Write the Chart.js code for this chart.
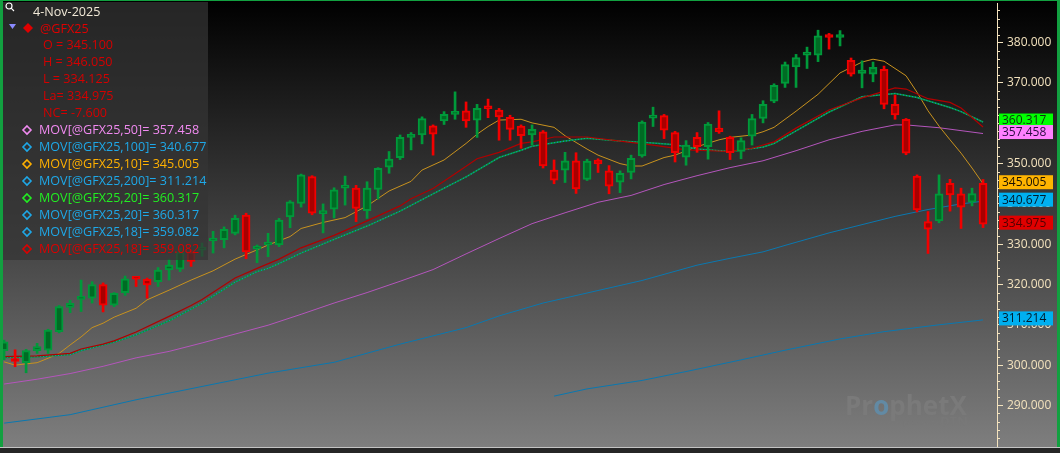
<!DOCTYPE html>
<html>
<head>
<meta charset="utf-8">
<script src="https://cdn.jsdelivr.net/npm/chart.js@4.4.1/dist/chart.umd.min.js"></script>
<style>
html, body { margin: 0; padding: 0; background: #000; overflow: hidden; }
#wrap { width: 1060px; height: 453px; }
</style>
</head>
<body>
<div id="wrap"><canvas id="gfChart" width="1060" height="453"></canvas></div>
<script>
// daily bars of @GFX25, oldest first, the last one is 4-Nov-2025
var opens = [303.6, 301.3, 300.6, 303.6, 303.7, 308.3, 314.3, 316.3, 316.6, 320.0,
    314.9, 318.0, 321.7, 321.3, 320.7, 323.6, 323.8, 328.1, 328.5, 330.8,
    331.1, 332.7, 337.2, 328.8, 329.8, 329.8, 336.8, 340.1, 346.8, 337.6,
    338.7, 343.9, 343.9, 338.3, 343.6, 349.1, 351.5, 356.5, 357.1, 359.4,
    360.6, 362.2, 363.1, 360.8, 364.0, 363.3, 361.5, 359.3, 357.1, 357.9,
    348.4, 348.4, 350.7, 346.1, 350.9, 348.2, 345.4, 347.8, 351.9, 361.3,
    361.9, 357.7, 351.6, 356.5, 354.2, 358.8, 356.5, 353.0, 356.8, 361.2,
    365.5, 369.9, 374.0, 376.9, 376.9, 381.9, 381.3, 375.6, 372.4, 372.2,
    373.4, 364.7, 361.0, 346.9, 335.6, 335.8, 345.1, 342.5, 340.4, 345.100];
var highs = [306.2, 303.8, 303.9, 305.4, 308.9, 314.8, 316.1, 321.1, 320.7, 320.4,
    318.0, 322.1, 321.8, 321.6, 324.2, 326.3, 329.0, 328.5, 330.3, 333.2,
    334.3, 337.2, 337.7, 329.8, 332.7, 336.4, 340.8, 347.4, 347.0, 340.0,
    344.0, 346.9, 344.6, 345.5, 349.0, 353.0, 357.1, 357.7, 361.6, 359.6,
    362.9, 367.8, 365.3, 364.7, 366.0, 363.7, 362.0, 359.6, 359.6, 358.2,
    350.9, 352.8, 352.7, 351.1, 351.2, 349.5, 348.2, 352.1, 360.6, 364.0,
    362.2, 358.0, 355.7, 357.7, 360.2, 363.1, 356.8, 356.4, 362.2, 365.6,
    369.8, 375.2, 377.1, 378.9, 383.1, 382.3, 383.0, 376.2, 375.5, 375.2,
    374.2, 367.0, 361.2, 347.2, 338.1, 347.2, 346.1, 343.9, 343.9, 346.050];
var lows = [301.3, 299.6, 298.1, 302.9, 302.9, 308.0, 313.0, 313.3, 315.4, 313.2,
    314.5, 317.3, 319.5, 316.6, 319.5, 321.1, 323.2, 324.5, 327.0, 327.8,
    329.1, 332.3, 326.4, 325.4, 326.9, 329.4, 334.1, 339.2, 337.3, 332.8,
    336.5, 339.7, 335.6, 336.4, 341.2, 347.6, 351.0, 353.4, 354.9, 352.1,
    359.7, 361.0, 359.0, 356.5, 361.4, 355.8, 355.8, 353.8, 354.6, 348.9,
    345.0, 345.3, 342.6, 345.8, 347.8, 342.5, 342.8, 346.2, 351.6, 359.2,
    356.2, 350.4, 349.6, 352.8, 351.1, 357.5, 351.0, 351.2, 354.6, 360.1,
    365.1, 368.9, 368.9, 373.6, 375.3, 378.4, 379.2, 371.7, 368.8, 370.3,
    363.6, 361.0, 352.2, 338.0, 327.7, 335.3, 338.2, 333.9, 339.5, 334.125];
var closes = [305.8, 300.9, 303.6, 304.6, 308.7, 314.5, 315.3, 316.8, 320.0, 314.9,
    317.8, 321.4, 321.3, 319.9, 323.6, 324.8, 328.1, 325.7, 329.0, 331.2,
    333.7, 336.4, 328.1, 329.1, 330.5, 336.0, 340.5, 347.2, 337.7, 338.0,
    343.5, 344.6, 338.9, 343.9, 348.8, 351.1, 356.5, 357.1, 361.2, 357.3,
    362.2, 362.9, 360.6, 363.7, 363.6, 361.6, 358.5, 356.9, 358.5, 349.4,
    345.9, 350.7, 343.7, 350.6, 349.9, 344.4, 347.6, 351.3, 360.3, 362.0,
    358.3, 352.7, 354.6, 354.2, 359.8, 357.9, 352.7, 355.7, 361.2, 364.7,
    369.4, 374.6, 376.3, 377.5, 381.7, 381.3, 381.7, 372.2, 373.2, 373.9,
    364.7, 362.1, 352.6, 338.5, 333.7, 342.5, 342.2, 339.2, 342.575, 334.975];

// moving averages, as [bar number, value]
var ma10 = [[0, 300.8], [1, 300.0], [3, 300.6], [4, 301.7], [5, 302.9], [6, 305.0], [7, 307.0], [8, 309.3],
    [9, 310.4], [10, 311.9], [12, 314.1], [13, 316.2], [15, 318.6], [17, 321.1], [19, 323.4], [21, 326.3],
    [23, 328.6], [24, 329.8], [26, 331.9], [27, 333.9], [29, 335.4], [31, 336.6], [33, 339.5], [35, 343.2],
    [37, 345.6], [38, 348.4], [40, 350.9], [42, 355.0], [43, 357.3], [44, 359.2], [45, 360.8], [47, 361.0],
    [48, 360.1], [50, 359.0], [51, 356.9], [53, 353.6], [54, 352.1], [56, 350.0], [57, 349.4], [58, 349.4],
    [60, 351.5], [61, 352.1], [63, 354.2], [65, 355.9], [66, 356.5], [68, 357.1], [69, 357.9], [70, 359.0],
    [72, 363.0], [74, 367.2], [76, 372.5], [78, 375.2], [79, 375.9], [80, 375.4], [82, 371.8], [83, 367.7],
    [84, 363.1], [85, 359.3], [86, 355.9], [87, 352.6], [88, 348.9], [89, 345.005]];
var ma18 = [[0, 302.1], [3, 302.3], [6, 302.9], [7, 304.0], [9, 305.2], [10, 306.0], [12, 308.2], [15, 312.1],
    [17, 314.8], [18, 316.3], [21, 321.6], [23, 324.0], [25, 326.3], [27, 329.1], [30, 332.2], [33, 335.8],
    [36, 339.5], [37, 341.3], [39, 343.8], [41, 347.5], [43, 351.2], [45, 352.8], [47, 355.0], [48, 355.4],
    [50, 356.6], [53, 356.6], [56, 355.6], [59, 354.6], [62, 353.4], [66, 353.0], [68, 353.8], [70, 355.4],
    [72, 358.8], [75, 363.3], [78, 366.3], [81, 368.8], [82, 368.5], [84, 366.1], [86, 365.2], [87, 363.8],
    [89, 359.082]];
var ma20 = [[0, 301.9], [3, 302.1], [6, 302.6], [7, 303.6], [10, 305.7], [12, 307.5], [15, 311.0], [17, 313.9],
    [18, 315.4], [21, 320.6], [23, 323.2], [24, 324.0], [25, 325.2], [27, 327.8], [30, 331.2], [33, 334.5],
    [36, 338.2], [39, 342.5], [42, 346.7], [45, 351.5], [47, 353.3], [48, 354.3], [51, 355.6], [53, 356.3],
    [56, 355.6], [59, 355.1], [61, 354.7], [63, 353.6], [66, 353.0], [69, 354.1], [70, 355.0], [72, 358.1],
    [75, 362.8], [78, 366.6], [81, 367.4], [83, 366.4], [86, 363.9], [87, 362.9], [89, 360.317]];
var ma50 = [[0, 295.3], [3, 296.5], [6, 297.9], [9, 299.7], [12, 301.8], [15, 303.4], [18, 305.5], [21, 307.7],
    [24, 309.9], [27, 312.6], [30, 315.4], [33, 318.0], [36, 320.8], [39, 323.7], [42, 327.6], [45, 331.4],
    [48, 335.1], [51, 337.8], [54, 340.4], [57, 342.1], [60, 344.8], [63, 347.0], [66, 349.0], [69, 350.7],
    [72, 353.2], [75, 355.9], [78, 358.0], [81, 359.6], [82, 359.6], [85, 358.9], [89, 357.458]];
var ma100 = [[0, 285.6], [6, 287.7], [12, 291.4], [18, 294.7], [24, 298.0], [30, 300.7], [36, 305.2], [42, 309.3],
    [45, 312.2], [49, 315.4], [58, 321.0], [63, 324.8], [66, 326.5], [69, 328.1], [71, 329.7], [75, 332.8],
    [81, 336.9], [84, 338.6], [87, 340.0], [89, 340.677]];
var ma200 = [[50, 292.3], [53, 294.1], [58, 296.2], [62, 298.4], [67, 301.3], [71, 303.7], [76, 306.5],
    [80, 308.3], [85, 310.0], [89, 311.214]];

var yTicks = [290, 300, 310, 320, 330, 340, 350, 360, 370, 380];
var lastDate = '4-Nov-2025';
var symbol = '@GFX25';

var cream = '#f3e2bd';
var uiFont = '"Open Sans", "Noto Sans", sans-serif';

var studies = [
    { name: 'MOV[@GFX25,50]', series: ma50, color: '#f08af0' },
    { name: 'MOV[@GFX25,100]', series: ma100, color: '#1ea8e8' },
    { name: 'MOV[@GFX25,10]', series: ma10, color: '#ffb000' },
    { name: 'MOV[@GFX25,200]', series: ma200, color: '#1ea8e8' },
    { name: 'MOV[@GFX25,20]', series: ma20, color: '#22ee22' },
    { name: 'MOV[@GFX25,20]', series: ma20, color: '#1ea8e8' },
    { name: 'MOV[@GFX25,18]', series: ma18, color: '#1ea8e8' },
    { name: 'MOV[@GFX25,18]', series: ma18, color: '#dd0000' }
];

function lastOf(series) {
    return series[series.length - 1][1];
}

// coloured boxes on the price axis
var axisTags = [
    { value: lastOf(ma20), bg: '#00ff00', fg: '#103010' },
    { value: lastOf(ma50), bg: '#ff80ff', fg: '#2a0a40' },
    { value: lastOf(ma10), bg: '#ffb400', fg: '#1a1000' },
    { value: lastOf(ma100), bg: '#00b0f0', fg: '#001a2a' },
    { value: closes[closes.length - 1], bg: '#e00000', fg: '#500000' },
    { value: lastOf(ma200), bg: '#00b0f0', fg: '#001a2a' }
];

var bars = opens.map(function (o, i) { return i; });
var isUp = bars.map(function (i) { return closes[i] >= opens[i]; });

function points(series) {
    return series.map(function (p) { return { x: p[0], y: p[1] }; });
}

function maLine(series, color, width, dash, order) {
    return {
        type: 'line',
        data: points(series),
        borderColor: color,
        borderWidth: width,
        borderDash: dash || [],
        pointRadius: 0,
        tension: 0,
        fill: false,
        order: order
    };
}

var backdrop = {
    id: 'backdrop',
    beforeDraw: function (chart) {
        var ctx = chart.ctx;
        var g = ctx.createLinearGradient(0, 0, 0, 447);
        g.addColorStop(0, '#000000');
        g.addColorStop(1, '#7e7e7e');
        ctx.save();
        ctx.fillStyle = g;
        ctx.fillRect(0, 0, chart.width, 447);
        ctx.restore();
    },
    beforeDatasetsDraw: function (chart) {
        // ProphetX watermark
        var ctx = chart.ctx;
        ctx.save();
        ctx.textBaseline = 'alphabetic';
        ctx.font = 'bold 26px ' + uiFont;
        ctx.fillStyle = '#7a7a7a';
        ctx.fillText('Pr', 845, 415);
        var w = ctx.measureText('Pr').width;
        ctx.fillStyle = '#628aa4';
        ctx.fillText('o', 845 + w, 415);
        var w2 = ctx.measureText('o').width;
        ctx.fillStyle = '#7a7a7a';
        ctx.fillText('phetX', 845 + w + w2, 415);
        ctx.font = '8px ' + uiFont;
        ctx.fillStyle = '#787878';
        ctx.fillText('powered by', 903, 425);
        ctx.font = 'bold 13px ' + uiFont;
        ctx.fillText('DTN', 940, 426);
        ctx.restore();
    }
};

var infoBox = {
    id: 'infoBox',
    afterDatasetsDraw: function (chart) {
        var ctx = chart.ctx;
        var n = closes.length - 1;
        ctx.save();
        ctx.fillStyle = 'rgba(52,52,52,0.72)';
        ctx.fillRect(3, 2, 205, 258);

        // magnifier
        ctx.strokeStyle = '#ffffff';
        ctx.lineWidth = 1.2;
        ctx.beginPath();
        ctx.arc(9, 6, 3, 0, Math.PI * 2);
        ctx.moveTo(11.2, 8.2);
        ctx.lineTo(14, 11);
        ctx.stroke();

        ctx.textBaseline = 'middle';
        ctx.font = '12.6px ' + uiFont;
        ctx.fillStyle = '#f2ead8';
        ctx.fillText(lastDate, 33, 12);

        ctx.fillStyle = '#8a8aff';
        ctx.beginPath();
        ctx.moveTo(9, 24); ctx.lineTo(16, 24); ctx.lineTo(12.5, 29);
        ctx.closePath(); ctx.fill();

        ctx.fillStyle = '#e00000';
        ctx.beginPath();
        ctx.moveTo(28, 23); ctx.lineTo(33, 28); ctx.lineTo(28, 33); ctx.lineTo(23, 28);
        ctx.closePath(); ctx.fill();
        ctx.fillText(symbol, 40, 29);

        var nc = closes[n] - closes[n - 1];
        var rows = ['O = ' + opens[n].toFixed(3), 'H = ' + highs[n].toFixed(3), 'L = ' + lows[n].toFixed(3),
            'La= ' + closes[n].toFixed(3), 'NC= ' + nc.toFixed(3)];
        ctx.fillStyle = '#d40000';
        rows.forEach(function (t, k) { ctx.fillText(t, 43, 45 + 17 * k); });

        studies.forEach(function (s, k) {
            var y = 130 + 17 * k;
            ctx.strokeStyle = s.color;
            ctx.lineWidth = 1.6;
            ctx.beginPath();
            ctx.moveTo(27, y - 4); ctx.lineTo(31, y); ctx.lineTo(27, y + 4); ctx.lineTo(23, y);
            ctx.closePath(); ctx.stroke();
            ctx.fillStyle = s.color;
            ctx.fillText(s.name + '= ' + lastOf(s.series).toFixed(3), 39, y);
        });
        ctx.restore();
    }
};

var axisExtras = {
    id: 'axisExtras',
    afterDraw: function (chart) {
        var ctx = chart.ctx;
        var ys = chart.scales.y;
        ctx.save();
        // minor ticks every 2
        ctx.strokeStyle = cream;
        ctx.lineWidth = 1;
        for (var v = 282; v <= 388; v += 2) {
            if (v % 10 === 0) continue;
            var py = Math.round(ys.getPixelForValue(v)) + 0.5;
            ctx.beginPath();
            ctx.moveTo(ys.left, py);
            ctx.lineTo(ys.left + 3, py);
            ctx.stroke();
        }
        // value tags
        ctx.font = '12px ' + uiFont;
        ctx.textBaseline = 'middle';
        axisTags.forEach(function (t) {
            var cy = ys.getPixelForValue(t.value) - 1.5;
            ctx.fillStyle = t.bg;
            ctx.fillRect(ys.left + 2, cy - 7, 54, 14);
            ctx.fillStyle = t.fg;
            ctx.fillText(t.value.toFixed(3), ys.left + 5, cy + 0.5);
        });

        // frame
        ctx.fillStyle = '#12a040';
        ctx.fillRect(0, 0, chart.width, 1);
        ctx.fillRect(0, 0, 3, 447);
        ctx.fillRect(chart.width - 3, 0, 3, 447);
        ctx.fillStyle = '#c4c4c4';
        ctx.fillRect(0, 447, chart.width, 1);
        ctx.fillStyle = '#262626';
        ctx.fillRect(0, 448, chart.width, 5);
        ctx.restore();
    }
};

new Chart(document.getElementById('gfChart').getContext('2d'), {
    data: {
        datasets: [
            {
                type: 'bar',
                data: bars.map(function (i) { return { x: i, y: [opens[i], closes[i]] }; }),
                backgroundColor: isUp.map(function (u) { return u ? '#006b24' : '#a80000'; }),
                borderColor: isUp.map(function (u) { return u ? '#00993a' : '#f20000'; }),
                borderWidth: 2,
                borderSkipped: false,
                barThickness: 8,
                minBarLength: 3,
                grouped: false,
                order: 0
            },
            {
                type: 'bar',
                data: bars.map(function (i) { return { x: i, y: [lows[i], highs[i]] }; }),
                backgroundColor: isUp.map(function (u) { return u ? '#00993a' : '#f20000'; }),
                barThickness: 2,
                grouped: false,
                order: 1
            },
            maLine(ma18, '#b00000', 1.2, null, 2),
            maLine(ma20, '#1a88c0', 1.2, [1, 2], 3),
            maLine(ma20, '#009a38', 1.5, null, 4),
            maLine(ma10, '#c8921e', 1, null, 5),
            maLine(ma50, '#b455bc', 1, null, 6),
            maLine(ma100, '#0a78b0', 1, null, 7),
            maLine(ma200, '#0a78b0', 1, null, 8)
        ]
    },
    options: {
        responsive: false,
        animation: false,
        devicePixelRatio: 1,
        layout: { padding: { left: 3, right: 3, top: 3, bottom: 6 } },
        plugins: { legend: { display: false }, tooltip: { enabled: false } },
        scales: {
            x: { type: 'linear', min: -0.1, max: 90.27, offset: false, display: false },
            y: {
                position: 'right',
                min: 279.68,
                max: 389.85,
                afterBuildTicks: function (s) { s.ticks = yTicks.map(function (v) { return { value: v }; }); },
                afterFit: function (s) { s.width = 60; s.paddingTop = 0; s.paddingBottom = 0; },
                grid: { drawOnChartArea: false, tickLength: 6, tickColor: cream },
                border: { color: cream, width: 1 },
                ticks: {
                    color: cream,
                    padding: 4,
                    font: { family: uiFont, size: 12 },
                    callback: function (v) { return Number(v).toFixed(3); }
                }
            }
        }
    },
    plugins: [backdrop, infoBox, axisExtras]
});
</script>
</body>
</html>
